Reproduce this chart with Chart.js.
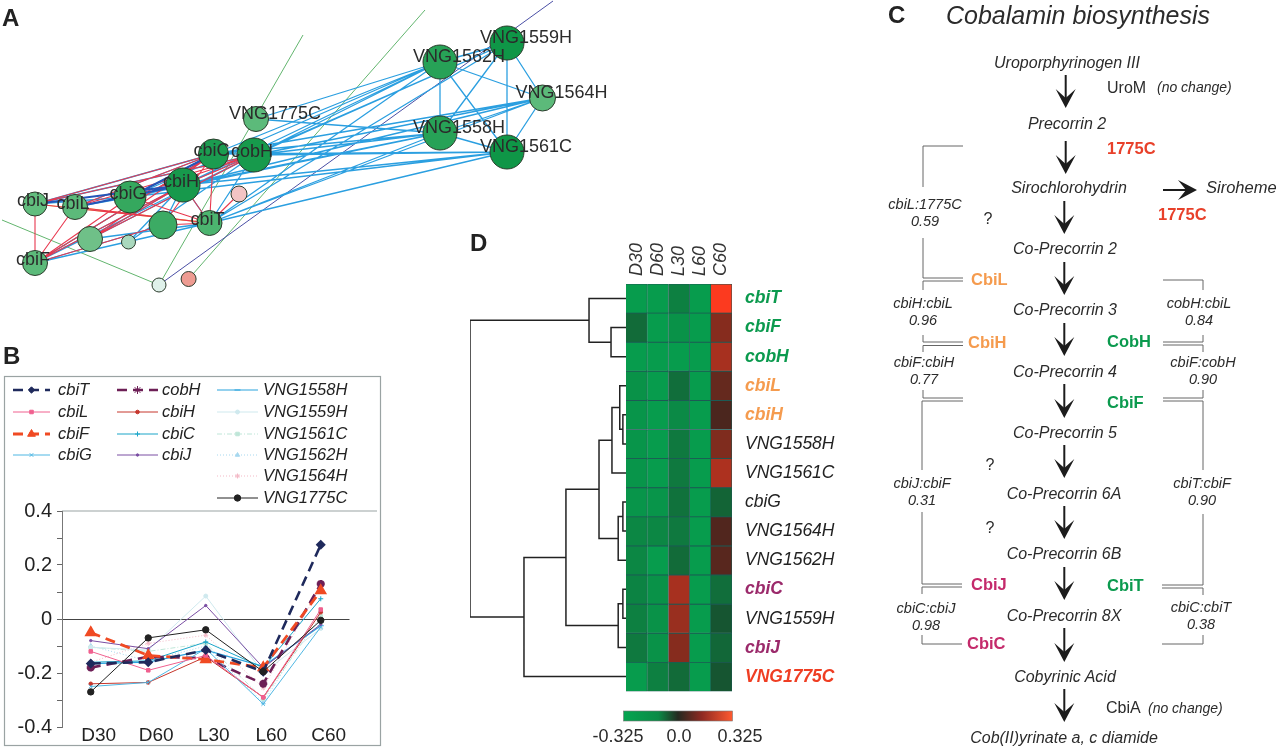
<!DOCTYPE html>
<html>
<head>
<meta charset="utf-8">
<title>Cobalamin biosynthesis</title>
<script src="https://cdn.jsdelivr.net/npm/chart.js@4/dist/chart.umd.js"></script>
<style>
  html, body { margin:0; padding:0; background:#fff; }
  #page { position:relative; width:1280px; height:748px; overflow:hidden; }
  #page canvas, #page svg { position:absolute; }
  svg text { font-family:"Liberation Sans", Arial, sans-serif; }
</style>
</head>
<body>
<div id="page">
  <canvas id="netChart" width="640" height="310" style="left:0;top:0"></canvas>
  <canvas id="lineChart" width="390" height="408" style="left:0;top:340px"></canvas>
  <canvas id="dendroChart" width="170" height="415" style="left:460px;top:280px"></canvas>
  <canvas id="heatChart" width="260" height="490" style="left:600px;top:225px"></canvas>
  <svg id="overlay" width="1280" height="748" style="left:0;top:0"></svg>
</div>
<script>
// panel A: network
const nodeNames = ['cbiJ','cbiL','cbiG','cbiH','cbiC','cobH','VNG1775C','cbiT','cbiF','n1','n2','n3','n4','n5','n6',
  'VNG1562H','VNG1559H','VNG1564H','VNG1558H','VNG1561C','off1','off2','off3','off4'];
const nodeX = [35,75,130,183,213.5,254,256,209.5,35,163,90,128.5,239,159,188.6,440,507,542.5,440,507,303,425,553,2];
const nodeY = [204,207,197,185,154,155,119,223,263,225,239,242,194,285,279,62,43,98,133,152,35,10,1,220];
const nodeSize = [12,12.5,16,17,15,17,12.5,12.5,12.5,14,12.5,7,8,7,7.5,17,17,13,17,17,0,0,0,0];
const nodeFill = ['#62bd7e','#5cba7a','#35a85e','#17994c','#1b9c50','#179a4c','#5cba7a','#4cb46f','#5cba7a','#3cab64','#6fc088','#a9d8bd','#f3c4c4','#dff1ea','#ee9c92',
  '#27a257','#0f9647','#5cba7a','#27a257','#0f9647','#fff','#fff','#fff','#fff'];

const blueLinks = ['cobH VNG1562H','cbiC VNG1562H','cbiH VNG1562H','cbiG VNG1562H','cobH VNG1559H','cbiH VNG1559H','cbiT VNG1562H','cbiT VNG1559H',
  'cobH VNG1558H','cobH VNG1561C','cobH VNG1564H','cbiC VNG1558H','cbiC VNG1561C','cbiC VNG1564H','cbiH VNG1558H','cbiH VNG1561C','cbiH VNG1564H',
  'cbiG VNG1558H','cbiG VNG1561C','cbiT VNG1558H','cbiT VNG1561C','cbiT VNG1564H','VNG1775C VNG1562H','VNG1775C VNG1558H',
  'VNG1562H VNG1559H','VNG1562H VNG1564H','VNG1562H VNG1558H','VNG1562H VNG1561C','VNG1559H VNG1564H','VNG1559H VNG1558H','VNG1559H VNG1561C',
  'VNG1564H VNG1558H','VNG1564H VNG1561C','VNG1558H VNG1561C',
  'cbiJ cbiC','cbiJ cobH','cbiJ cbiG','cbiL cbiG','cbiL cbiC','cbiF cobH','cbiF cbiH','cbiF cbiT','cbiF n1','cbiF cbiC','n2 cbiH','n2 cobH','n2 cbiT','n1 cbiH','n3 cbiH','n3 cobH','cbiT cbiH','cbiT cobH'];
const redLinks = ['cbiJ cbiF','cbiL cbiF','cbiF cbiG','cbiF cbiH','cbiF cbiC','cbiF n1','cbiJ cbiC','cbiJ cobH','cbiL cbiC','cbiL cobH','cbiJ cbiT','cbiL cbiT',
  'cbiG cbiT','cbiG cbiC','cbiG cobH','n2 cbiC','n2 cobH','n2 cbiH','n1 cbiT','n4 cbiT','cbiH cbiT','n1 cbiC','cbiC cbiT','cbiH cobH'];
const navyLinks = ['cbiJ cbiH','cbiL cbiH','cbiG cbiC'];
const yellowLinks = ['cbiF cbiC','cbiJ cbiT','cbiL cbiT'];
const greenLinks = ['n5 off1','n6 off2','off4 n5'];
const purpleLinks = ['n5 off3'];

// panel B: expression profiles
const conditions = ['D30','D60','L30','L60','C60'];
const seriesNames = ['cbiT','cbiL','cbiF','cbiG','cobH','cbiH','cbiC','cbiJ','VNG1558H','VNG1559H','VNG1561C','VNG1562H','VNG1564H','VNG1775C'];
const cbiT = [-0.165,-0.16,-0.115,-0.195,0.275];
const cbiL = [-0.12,-0.19,-0.135,-0.29,0.035];
const cbiF = [-0.05,-0.135,-0.15,-0.18,0.105];
const cbiG = [-0.25,-0.235,-0.11,-0.315,-0.03];
const cobH = [-0.18,-0.14,-0.145,-0.24,0.13];
const cbiH = [-0.24,-0.235,-0.14,-0.29,0.025];
const cbiC = [-0.16,-0.155,-0.085,-0.18,0.075];
const cbiJ = [-0.08,-0.11,0.05,-0.18,-0.02];
const VNG1558H = [-0.165,-0.16,-0.115,-0.175,-0.025];
const VNG1559H = [-0.105,-0.115,0.085,-0.2,-0.035];
const VNG1561C = [-0.105,-0.12,-0.09,-0.295,0.01];
const VNG1562H = [-0.1,-0.155,-0.1,-0.31,0.03];
const VNG1564H = [-0.16,-0.09,-0.06,-0.255,0.12];
const VNG1775C = [-0.27,-0.07,-0.04,-0.195,-0.005];
const seriesValues = [cbiT,cbiL,cbiF,cbiG,cobH,cbiH,cbiC,cbiJ,VNG1558H,VNG1559H,VNG1561C,VNG1562H,VNG1564H,VNG1775C];
const seriesStyle = [
  { color:'#1f2a5c', width:2.6, dash:[10,6], point:'rectRot', r:3.2 },
  { color:'#f0608f', width:1, dash:[], point:'rect', r:2.5 },
  { color:'#f04a23', width:2.8, dash:[10,6], point:'triangle', r:4.5 },
  { color:'#4fb7e3', width:1, dash:[], point:'crossRot', r:2.5 },
  { color:'#6d1f56', width:2.6, dash:[10,6], point:'star', r:4 },
  { color:'#c6362c', width:1, dash:[], point:'circle', r:1.8 },
  { color:'#1aa5c8', width:1, dash:[], point:'cross', r:2.5 },
  { color:'#7a4ea3', width:1, dash:[], point:'circle', r:1.2 },
  { color:'#2aa3dd', width:1.2, dash:[], point:'line', r:3 },
  { color:'#cfe9ee', width:1, dash:[], point:'circle', r:2 },
  { color:'#bfe6d8', width:1, dash:[5,2,1,2], point:'rect', r:2.5 },
  { color:'#a7d8ef', width:1, dash:[1,2], point:'triangle', r:2.5 },
  { color:'#f3b9c6', width:1, dash:[1,2], point:'star', r:2.5 },
  { color:'#222222', width:1, dash:[], point:'circle', r:3.2 }
];

// panel D: heatmap
const geneNames = ['cbiT','cbiF','cobH','cbiL','cbiH','VNG1558H','VNG1561C','cbiG','VNG1564H','VNG1562H','cbiC','VNG1559H','cbiJ','VNG1775C'];
const heatD30 = [-0.3,-0.16,-0.3,-0.27,-0.28,-0.28,-0.28,-0.28,-0.24,-0.24,-0.23,-0.22,-0.2,-0.3];
const heatD60 = [-0.3,-0.3,-0.3,-0.3,-0.3,-0.3,-0.3,-0.28,-0.24,-0.3,-0.27,-0.27,-0.27,-0.22];
const heatL30 = [-0.22,-0.27,-0.3,-0.17,-0.25,-0.2,-0.2,-0.18,-0.2,-0.16,0.19,0.17,0.14,-0.16];
const heatL60 = [-0.3,-0.3,-0.3,-0.3,-0.3,-0.3,-0.3,-0.3,-0.3,-0.3,-0.3,-0.3,-0.3,-0.3];
const heatC60 = [0.32,0.14,0.19,0.09,0.05,0.13,0.2,-0.14,0.06,0.07,-0.17,-0.1,-0.15,-0.1];
const heatColumns = [heatD30,heatD60,heatL30,heatL60,heatC60];
const geneColors = ['#0b9a4e','#0b9a4e','#0b9a4e','#f59b4e','#f59b4e','#222','#222','#222','#222','#222','#9b2a6b','#222','#9b2a6b','#ef3e23'];

// dendrogram merges: ids below 14 are rows, the rest earlier merges
const mergeLeft = [1,0,4,3,17,7,19,18,10,22,21,24,15];
const mergeRight = [2,14,5,16,6,8,9,20,11,12,23,13,25];
const mergeHeight = [0.096,0.237,0.02,0.04,0.09,0.02,0.05,0.173,0.02,0.05,0.385,0.654,1];

Chart.defaults.font.family = '"Liberation Sans", Arial, sans-serif';
Chart.defaults.animation = false;
Chart.defaults.responsive = false;
Chart.defaults.plugins.legend.display = false;
Chart.defaults.plugins.tooltip.enabled = false;

// ---- panel A
function linkPoints(links) {
  const pts = [];
  links.forEach(l => {
    const [a, b] = l.split(' ').map(n => nodeNames.indexOf(n));
    pts.push({ x:nodeX[a], y:nodeY[a] }, { x:nodeX[b], y:nodeY[b] }, { x:NaN, y:NaN });
  });
  return pts;
}
function linkSet(links, color, width, order) {
  return { type:'scatter', data:linkPoints(links), showLine:true, spanGaps:false, borderColor:color, borderWidth:width, pointRadius:0, order:order };
}
const netLabels = {
  id:'netLabels',
  afterDatasetsDraw(chart) {
    const { ctx, scales } = chart;
    ctx.save();
    ctx.font = '18px "Liberation Sans"';
    ctx.fillStyle = '#2b2b2b';
    ctx.textAlign = 'center';
    ctx.textBaseline = 'middle';
    nodeNames.forEach((n, i) => {
      if (/^(n\d|off)/.test(n)) return;
      const vng = n.startsWith('VNG');
      ctx.fillText(n, scales.x.getPixelForValue(nodeX[i]) + (vng ? 19 : -2), scales.y.getPixelForValue(nodeY[i]) - (vng ? 5 : 3));
    });
    ctx.restore();
  }
};
new Chart(document.getElementById('netChart'), {
  type:'bubble',
  data:{ datasets:[
    { data:nodeNames.map((n, i) => ({ x:nodeX[i], y:nodeY[i], r:nodeSize[i] })).filter(p => p.r > 0),
      backgroundColor:nodeFill.filter((c, i) => nodeSize[i] > 0), borderColor:'#2c3b2c', borderWidth:1, order:1 },
    linkSet(greenLinks, '#62b56e', 1, 7),
    linkSet(purpleLinks, '#4a4fa5', 1, 6),
    linkSet(yellowLinks, '#f2c94c', 1, 5),
    linkSet(blueLinks, '#2b9fe0', 1.3, 4),
    linkSet(redLinks, '#e8384f', 1.1, 3),
    linkSet(navyLinks, '#2455b8', 2, 2)
  ] },
  options:{
    layout:{ padding:0, autoPadding:false },
    scales:{
      x:{ type:'linear', min:0, max:640, display:false },
      y:{ type:'linear', min:0, max:310, reverse:true, display:false }
    }
  },
  plugins:[netLabels]
});

// ---- panel B
const legendPlugin = {
  id:'seriesLegend',
  beforeDraw(chart) {
    const { ctx, scales } = chart;
    ctx.save();
    ctx.strokeStyle = '#9aa3a3';
    ctx.lineWidth = 1.2;
    ctx.strokeRect(4.5, 36.5, 376, 369);
    ctx.beginPath();
    ctx.moveTo(scales.x.left, scales.y.getPixelForValue(0.4));
    ctx.lineTo(377, scales.y.getPixelForValue(0.4));
    ctx.stroke();
    ctx.restore();
  },
  afterDraw(chart) {
    const { ctx } = chart;
    const colX = [[13,50,58],[117,158,162],[217,258,263]];
    const rowY = [50,72,94,115,136,158];
    seriesNames.forEach((name, i) => {
      const col = i < 4 ? 0 : i < 8 ? 1 : 2;
      const row = col === 0 ? i : col === 1 ? i - 4 : i - 8;
      const st = seriesStyle[i];
      const [x0, x1, tx] = colX[col];
      const y = rowY[row];
      ctx.save();
      ctx.strokeStyle = st.color;
      ctx.lineWidth = st.width;
      ctx.setLineDash(st.dash);
      ctx.beginPath();
      ctx.moveTo(x0, y);
      ctx.lineTo(x1, y);
      ctx.stroke();
      ctx.setLineDash([]);
      ctx.fillStyle = st.color;
      ctx.lineWidth = 1;
      Chart.helpers.drawPoint(ctx, { pointStyle:st.point, radius:st.r, rotation:0, borderWidth:1 }, (x0 + x1) / 2, y);
      ctx.fillStyle = '#222';
      ctx.font = 'italic 16.5px "Liberation Sans"';
      ctx.textAlign = 'left';
      ctx.textBaseline = 'middle';
      ctx.fillText(name, tx, y);
      ctx.restore();
    });
  }
};
new Chart(document.getElementById('lineChart'), {
  type:'line',
  data:{
    labels:conditions,
    datasets:seriesNames.map((name, i) => ({
      label:name,
      data:seriesValues[i],
      borderColor:seriesStyle[i].color,
      borderWidth:seriesStyle[i].width,
      borderDash:seriesStyle[i].dash,
      pointStyle:seriesStyle[i].point,
      pointRadius:seriesStyle[i].r,
      pointBackgroundColor:seriesStyle[i].color,
      pointBorderColor:seriesStyle[i].color,
      tension:0,
      order:name === 'VNG1775C' ? -1 : 0
    }))
  },
  options:{
    layout:{ padding:{ left:0, top:171, right:40.5, bottom:0 }, autoPadding:false },
    scales:{
      x:{
        offset:true,
        grid:{ display:false, drawTicks:false },
        border:{ display:false },
        afterFit(s) { s.height = 21; },
        ticks:{ color:'#222', font:{ size:19 }, labelOffset:8, padding:-3, maxRotation:0, autoSkip:false }
      },
      y:{
        min:-0.4, max:0.4,
        afterFit(s) { s.width = 62; },
        border:{ color:'#777' },
        grid:{ color:ctx => Math.abs(ctx.tick.value) < 1e-6 ? '#444' : 'transparent', tickColor:'#666', tickLength:5 },
        ticks:{
          stepSize:0.1, autoSkip:false, color:'#222', font:{ size:20 }, padding:5,
          callback(v) {
            const t = Math.round(v * 10);
            if (t % 2 !== 0) return '';
            return t === 0 ? '0' : (t / 10).toFixed(1);
          }
        }
      }
    }
  },
  plugins:[legendPlugin]
});

// ---- panel D dendrogram
const rowCount = geneNames.length;
const treeY = geneNames.map((g, i) => i);
const treeH = geneNames.map(() => 0);
const treePts = [];
mergeHeight.forEach((h, m) => {
  const a = mergeLeft[m], b = mergeRight[m];
  treePts.push({ x:treeH[a], y:treeY[a] }, { x:h, y:treeY[a] }, { x:h, y:treeY[b] }, { x:treeH[b], y:treeY[b] }, { x:NaN, y:NaN });
  treeY.push((treeY[a] + treeY[b]) / 2);
  treeH.push(h);
});
new Chart(document.getElementById('dendroChart'), {
  type:'scatter',
  data:{ datasets:[{ data:treePts, showLine:true, spanGaps:false, borderColor:'#222', borderWidth:1.5, pointRadius:0 }] },
  options:{
    layout:{ padding:{ left:10, right:4, top:4, bottom:4 }, autoPadding:false },
    scales:{
      x:{ type:'linear', min:0, max:1, reverse:true, display:false },
      y:{ type:'linear', min:-0.5, max:rowCount - 0.5, reverse:true, display:false }
    }
  }
});

// ---- panel D heatmap
function mix(a, b, t) { return a.map((v, i) => Math.round(v + (b[i] - v) * t)); }
function heatColor(v) {
  const t = Math.min(Math.abs(v) / 0.325, 1);
  const c = v < 0 ? mix([30,50,35], [5,165,80], t) : mix([42,34,30], [255,58,31], t);
  return `rgb(${c.join(',')})`;
}
new Chart(document.getElementById('heatChart'), {
  type:'bar',
  data:{
    labels:geneNames,
    datasets:conditions.map((c, k) => ({
      label:c,
      data:geneNames.map(() => 1),
      backgroundColor:heatColumns[k].map(heatColor),
      borderColor:'#1d5a55',
      borderWidth:0.8,
      barPercentage:1,
      categoryPercentage:1
    }))
  },
  options:{
    indexAxis:'y',
    layout:{ padding:{ left:26, top:0, right:0, bottom:4 }, autoPadding:false },
    scales:{
      x:{ type:'linear', stacked:true, min:0, max:conditions.length, display:false },
      xTop:{
        type:'category', axis:'x', position:'top', labels:conditions, offset:true,
        afterFit(s) { s.height = 59; },
        grid:{ display:false, drawTicks:false },
        border:{ display:false },
        ticks:{ color:'#333', font:{ size:18, style:'italic' }, minRotation:90, maxRotation:90, padding:8, labelOffset:21.5, autoSkip:false }
      },
      y:{
        stacked:true,
        position:'right',
        afterFit(s) { s.width = 128; },
        grid:{ display:false, drawTicks:false },
        border:{ display:false },
        ticks:{
          autoSkip:false, padding:13,
          color:ctx => geneColors[ctx.index],
          font:ctx => ({ size:17.5, style:'italic', weight:geneColors[ctx.index] === '#222' ? 'normal' : 'bold' })
        }
      }
    }
  }
});

// ---- panel C pathway + panel letters + colour bar
const svg = document.getElementById('overlay');
const NS = 'http://www.w3.org/2000/svg';
function el(tag, attrs, text) {
  const e = document.createElementNS(NS, tag);
  Object.keys(attrs).forEach(k => e.setAttribute(k, attrs[k]));
  if (text) e.textContent = text;
  svg.appendChild(e);
  return e;
}
function txt(s, x, y, size, opts = {}) {
  el('text', { x, y, 'font-size':size, 'dominant-baseline':'central', 'text-anchor':opts.anchor || 'start',
    'font-style':opts.italic ? 'italic' : 'normal', 'font-weight':opts.bold ? 'bold' : 'normal', fill:opts.fill || '#2b2b2b' }, s);
}

[['A',2,17],['B',3,355],['D',470,242],['C',888,14]].forEach(l => txt(l[0], l[1], l[2], 24, { bold:true, fill:'#222' }));

txt('Cobalamin biosynthesis', 1078, 15, 25, { anchor:'middle', italic:true });

const metabolites = [
  ['Uroporphyrinogen III',1067,62],['Precorrin 2',1067,123],['Sirochlorohydrin',1069,187],['Co-Precorrin 2',1065,248],
  ['Co-Precorrin 3',1065,309],['Co-Precorrin 4',1065,371],['Co-Precorrin 5',1065,432],['Co-Precorrin 6A',1064,493],
  ['Co-Precorrin 6B',1064,553],['Co-Precorrin 8X',1064,615],['Cobyrinic Acid',1065,676],['Cob(II)yrinate a, c diamide',1064,737]
];
metabolites.forEach(m => txt(m[0], m[1], m[2], 16, { anchor:'middle', italic:true }));
txt('Siroheme', 1206, 187, 16.5, { italic:true });

const enzymes = [
  ['1775C',1107,148,'#e8402a'],['1775C',1158,214,'#e8402a'],['CbiL',971,279,'#f59b4e'],['CbiH',968,342,'#f59b4e'],
  ['CobH',1107,341,'#0b9a4e'],['CbiF',1107,402,'#0b9a4e'],['CbiJ',971,584,'#c42a6b'],['CbiT',1107,585,'#0b9a4e'],['CbiC',967,643,'#c42a6b']
];
enzymes.forEach(e => txt(e[0], e[1], e[2], 16.5, { bold:true, fill:e[3] }));

txt('UroM', 1107, 87, 16);
txt('(no change)', 1157, 87, 14, { italic:true });
txt('CbiA', 1106, 707, 16);
txt('(no change)', 1148, 708, 14, { italic:true });

const correlations = [
  ['cbiL:1775C','0.59',925,204],['cbiH:cbiL','0.96',923,303],['cobH:cbiL','0.84',1199,303],['cbiF:cbiH','0.77',924,362],
  ['cbiF:cobH','0.90',1203,362],['cbiJ:cbiF','0.31',922,483],['cbiT:cbiF','0.90',1202,483],['cbiC:cbiJ','0.98',926,608],['cbiC:cbiT','0.38',1201,607]
];
correlations.forEach(c => {
  txt(c[0], c[2], c[3], 14.5, { anchor:'middle', italic:true });
  txt(c[1], c[2], c[3] + 17, 14.5, { anchor:'middle', italic:true });
});
[[988,218],[990,464],[990,527]].forEach(q => txt('?', q[0], q[1], 16, { anchor:'middle' }));

const brackets = [
  '963,146 923,146 923,187','923,238 923,278 963,278','923,290 923,281 963,281','923,335 923,342 963,342','963,345.5 923,345.5 923,352',
  '923,390 923,398 963,398','963,401 922,401 922,470','922,512 922,584 962,584','962,587 922,587 922,594','922,635 922,644 962,644',
  '1163,280 1203,280 1203,290','1203,335 1203,342 1163,342','1163,345 1203,345 1203,352','1203,390 1203,398 1163,398','1163,401 1203,401 1203,470',
  '1203,514 1203,585 1162,585','1162,588 1203,588 1203,595','1203,635 1203,644 1162,644'
];
brackets.forEach(b => el('polyline', { points:b, fill:'none', stroke:'#666', 'stroke-width':1 }));

const downArrows = [[1065.7,75,108],[1065.7,141,174],[1064.3,201,234],[1064.3,262,295],[1064.3,323,356],[1064.3,384,418],
  [1064.3,445,478],[1064.3,506,539],[1064.3,567,600],[1064.3,628,662],[1064.3,689,722]];
downArrows.forEach(([x, y1, y2]) => {
  el('line', { x1:x, y1:y1, x2:x, y2:y2 - 8, stroke:'#1c1c1c', 'stroke-width':2 });
  el('polygon', { points:`${x},${y2} ${x + 10},${y2 - 19} ${x},${y2 - 10} ${x - 10},${y2 - 19}`, fill:'#1c1c1c' });
});
// arrow to siroheme
el('line', { x1:1163, y1:190, x2:1188, y2:190, stroke:'#1c1c1c', 'stroke-width':2 });
el('polygon', { points:'1197,190 1178,180 1186,190 1178,200', fill:'#1c1c1c' });

// colour bar
const defs = el('defs', {});
const grad = document.createElementNS(NS, 'linearGradient');
grad.setAttribute('id', 'heatGrad');
[[0,'#05a550'],[0.32,'#0b8a46'],[0.5,'#252a20'],[0.72,'#8f2a22'],[1,'#ff5a30']].forEach(s => {
  const stop = document.createElementNS(NS, 'stop');
  stop.setAttribute('offset', s[0]);
  stop.setAttribute('stop-color', s[1]);
  grad.appendChild(stop);
});
defs.appendChild(grad);
el('rect', { x:623.5, y:711, width:109, height:10, fill:'url(#heatGrad)', stroke:'#777', 'stroke-width':0.6 });
txt('-0.325', 618, 736, 18, { anchor:'middle' });
txt('0.0', 679, 736, 18, { anchor:'middle' });
txt('0.325', 740, 736, 18, { anchor:'middle' });
</script>
</body>
</html>
